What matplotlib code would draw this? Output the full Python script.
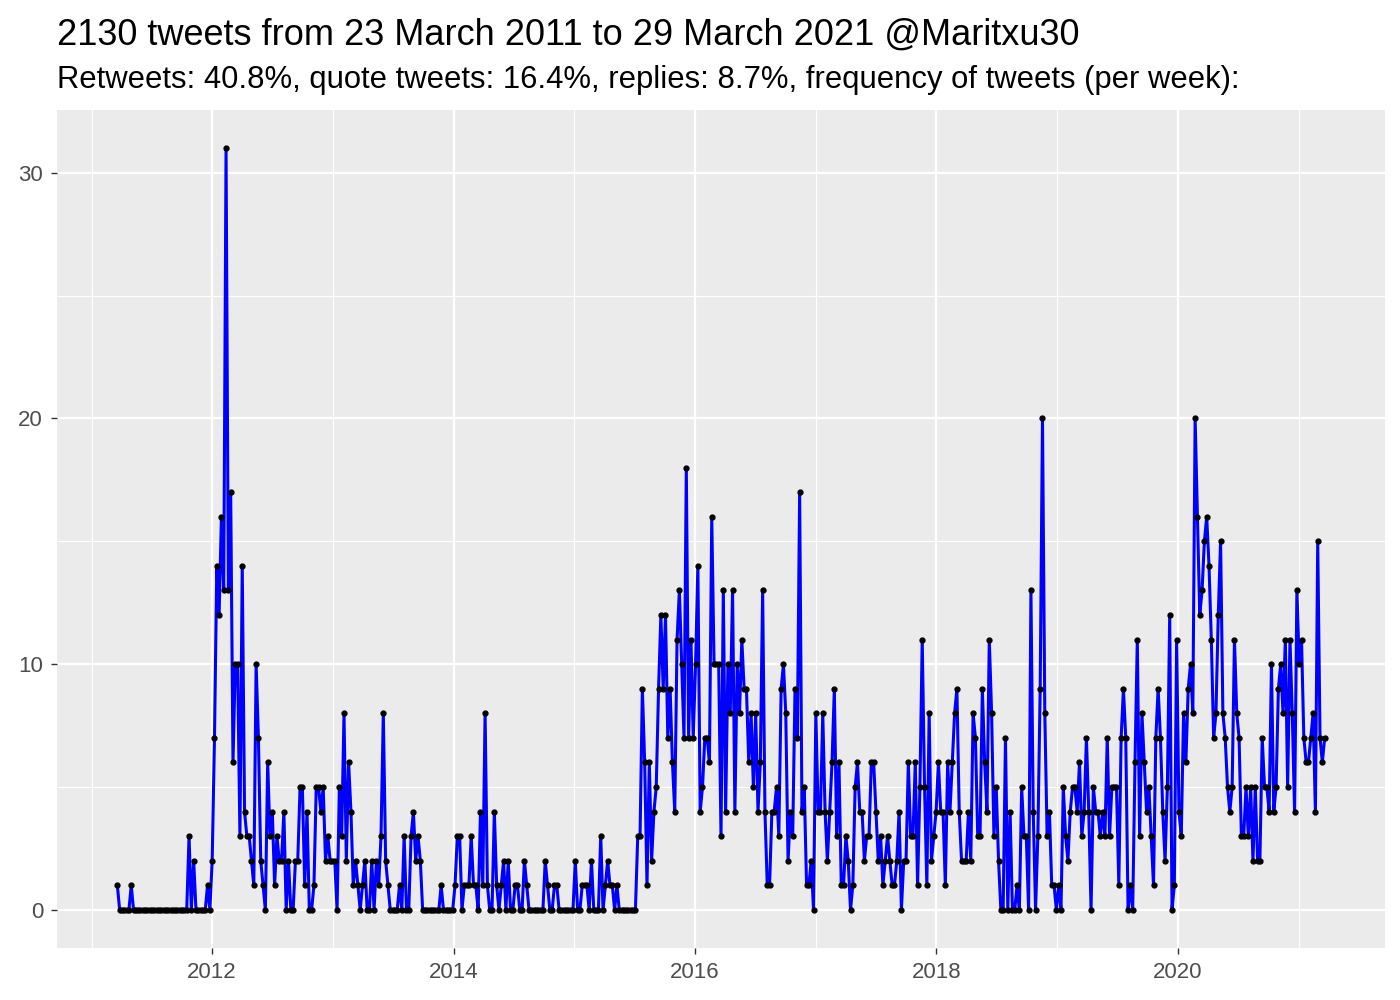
import matplotlib
matplotlib.use("Agg")
import matplotlib.pyplot as plt
import matplotlib.dates as mdates
import pandas as pd

plt.rcParams['font.family'] = ['Liberation Sans', 'DejaVu Sans']

# tweets per week, first week starting 20 March 2011
start_week = "2011-03-20"

weeks_2011 = [1, 0, 0, 0, 0, 0, 1] + [0] * 24 + [3, 0, 2, 0, 0, 0, 0, 0, 1, 0, 2]
weeks_2012 = [7, 14, 12, 16, 13, 31, 13, 17, 6, 10, 10, 3, 14, 4, 3, 3, 2, 1, 10, 7,
              2, 1, 0, 6, 3, 4, 1, 3, 2, 2, 4, 0, 2, 0, 0, 2, 2, 5, 5, 1, 4, 0,
              0, 1, 5, 5, 4, 5, 2, 3, 2, 2]
weeks_2013 = [2, 0, 5, 3, 8, 2, 6, 4, 1, 2, 1, 0, 1, 2, 0, 0, 2, 0, 2, 1, 3, 8,
              2, 1, 0, 0, 0, 0, 1, 0, 3, 0, 0, 3, 4, 2, 3, 2, 0] + [0] * 7 + [1] + [0] * 5
weeks_2014 = [1, 3, 3, 0, 1, 1, 1, 3, 1, 1, 0, 4, 1, 8, 1, 0, 0, 4, 1, 0, 1, 2, 0,
              2, 0, 0, 1, 1, 0, 0, 2, 1] + [0] * 7 + [2, 1, 0, 0, 1, 1] + [0] * 7
weeks_2015 = [2, 0, 0, 1, 1, 1, 0, 2, 0, 0, 0, 3, 0, 1, 2, 1, 1, 0, 1] + [0] * 8 + \
             [3, 3, 9, 6, 1, 6, 2, 4, 5, 9, 12, 9, 12, 7, 9, 6, 4, 11, 13, 10,
              7, 18, 7, 11, 7, 10, 14, 4, 5, 7]
weeks_2016 = [7, 6, 16, 10, 10, 10, 3, 13, 4, 10, 8, 13, 4, 10, 8, 11, 9, 9, 6, 8,
              5, 8, 4, 6, 13, 4, 1, 1, 4, 4, 5, 3, 9, 10, 8, 2, 4, 3, 9, 7, 17, 4, 5]
weeks_2017 = [1, 1, 2, 0, 8, 4, 4, 8, 4, 2, 4, 6, 9, 3, 6, 1, 1, 3, 2, 0,
              1, 5, 6, 4, 4, 2, 3, 3, 6, 6, 4, 2, 3, 1, 2, 3, 2, 1, 1, 2, 4, 0, 2]
weeks_2018 = [2, 6, 3, 3, 6, 1, 5, 11, 5, 1, 8, 2, 3, 4, 6, 4, 4, 1, 6, 4,
              6, 8, 9, 4, 2, 2, 2, 4, 2, 8, 7, 3, 3, 9, 6, 4, 11, 8, 3, 5, 2, 0, 0, 7]
weeks_2019 = [0, 4, 0, 0, 1, 0, 5, 3, 3, 0, 13, 4, 0, 3, 9, 20, 8, 3, 4, 1,
              1, 0, 1, 0, 5, 3, 2, 4, 5, 5, 4, 6, 3, 4, 7, 4, 0, 5, 4, 4, 3, 4, 3,
              7, 3, 5, 5, 5, 1, 7, 9, 7, 0, 1, 0, 6, 11, 3, 8, 6, 4, 5, 3,
              1, 7, 9, 7, 4, 2, 5, 12, 0, 1]
weeks_2020 = [11, 4, 3, 8, 6, 9, 10, 8, 20, 16, 12, 13, 15, 16, 14, 11, 7, 8, 12, 15,
              8, 7, 5, 4, 5, 11, 8, 7, 3, 3, 5, 3, 5, 2, 5, 2, 2, 7, 5, 5,
              4, 10, 4, 5, 9, 10, 8, 11, 5, 11, 8, 4, 13, 10, 11, 7, 6, 6, 7, 8, 4]
weeks_2021 = [15, 7, 6, 7]

tweets = (weeks_2011 + weeks_2012 + weeks_2013 + weeks_2014 + weeks_2015 + weeks_2016
          + weeks_2017 + weeks_2018 + weeks_2019 + weeks_2020 + weeks_2021)
weeks = pd.date_range(start_week, periods=len(tweets), freq="7D")

title = "2130 tweets from 23 March 2011 to 29 March 2021 @Maritxu30"
subtitle = ("Retweets: 40.8%, quote tweets: 16.4%, replies: 8.7%, "
            "frequency of tweets (per week):")

fig = plt.figure(figsize=(14, 10), dpi=100)
ax = fig.add_axes([0.0407, 0.052, 0.9486, 0.838])
ax.set_facecolor("#EBEBEB")

ax.plot(weeks, tweets, color="blue", lw=2.2, zorder=3)
ax.plot(weeks, tweets, "o", color="black", ms=3.5, zorder=4)

span = weeks[-1] - weeks[0]
ax.set_xlim(weeks[0] - span * 0.05, weeks[-1] + span * 0.05)
ymax = max(tweets)
ax.set_ylim(-ymax * 0.05, ymax * 1.05)

ax.xaxis.set_major_locator(mdates.YearLocator(2))
ax.xaxis.set_minor_locator(mdates.YearLocator(1))
ax.xaxis.set_major_formatter(mdates.DateFormatter("%Y"))
ax.set_yticks([0, 10, 20, 30])
ax.set_yticks([5, 15, 25], minor=True)

ax.grid(which="major", color="white", lw=1.6)
ax.grid(which="minor", color="white", lw=0.8)
ax.set_axisbelow(True)
for s in ax.spines.values():
    s.set_visible(False)
ax.tick_params(which="major", length=4, width=1, color="#333333",
               labelcolor="#4D4D4D", labelsize=16, pad=6)
ax.tick_params(which="minor", length=0)

fig.text(0.0407, 0.955, title, fontsize=26, color="black")
fig.text(0.0407, 0.912, subtitle, fontsize=22.3, color="black")

fig.savefig("out.png", dpi=100)
